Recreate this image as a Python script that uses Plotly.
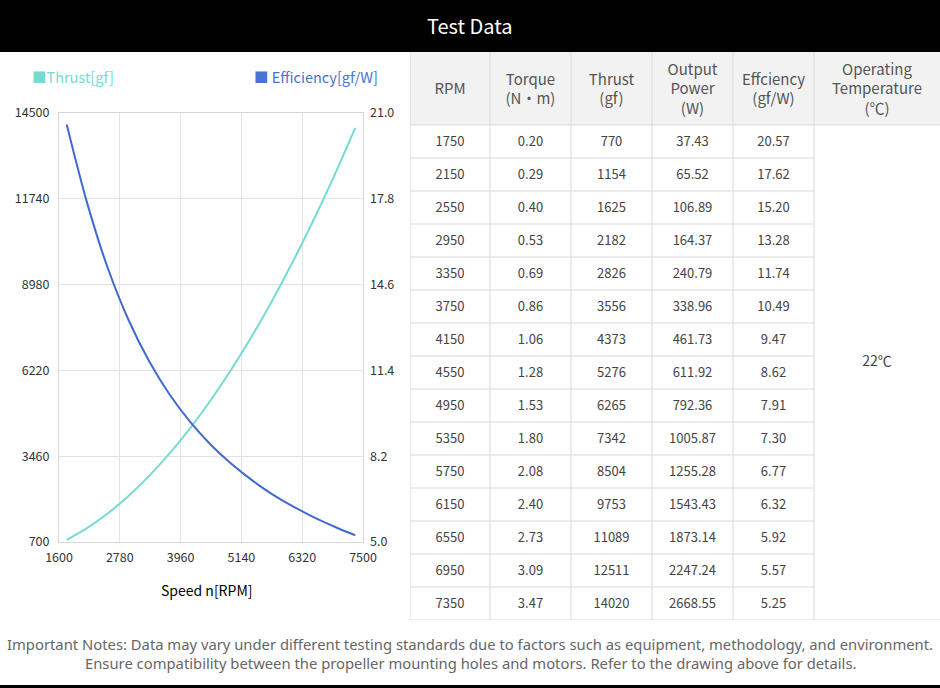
import plotly.graph_objects as go

# 表格数据
rpm = [1750, 2150, 2550, 2950, 3350, 3750, 4150, 4550, 4950, 5350, 5750, 6150, 6550, 6950, 7350]
torque = ["0.20", "0.29", "0.40", "0.53", "0.69", "0.86", "1.06", "1.28", "1.53", "1.80", "2.08", "2.40", "2.73", "3.09", "3.47"]
thrust = [770, 1154, 1625, 2182, 2826, 3556, 4373, 5276, 6265, 7342, 8504, 9753, 11089, 12511, 14020]
power = ["37.43", "65.52", "106.89", "164.37", "240.79", "338.96", "461.73", "611.92", "792.36", "1005.87",
         "1255.28", "1543.43", "1873.14", "2247.24", "2668.55"]
efficiency = [20.57, 17.62, 15.20, 13.28, 11.74, 10.49, 9.47, 8.62, 7.91, 7.30, 6.77, 6.32, 5.92, 5.57, 5.25]
temperature = "22℃"

headers = ["RPM", "Torque<br>(N·m)", "Thrust<br>(gf)", "Output<br>Power<br>(W)", "Effciency<br>(gf/W)",
           "Operating<br>Temperature<br>(℃)"]

x_ticks = [1600, 2780, 3960, 5140, 6320, 7500]
thrust_ticks = [700, 3460, 6220, 8980, 11740, 14500]
eff_ticks = [5.0, 8.2, 11.4, 14.6, 17.8, 21.0]

W, H = 940, 688
FONT = "Noto Sans CJK SC"
TEAL = "#74dcd2"
BLUE = "#4169cf"


def px(x):
    return x / W


def py(y):
    return 1 - y / H


fig = go.Figure()

# 曲线
fig.add_trace(go.Scatter(x=rpm, y=thrust, mode="lines", line=dict(color=TEAL, width=2, shape="spline"),
                         xaxis="x", yaxis="y", name="Thrust[gf]", hoverinfo="x+y"))
fig.add_trace(go.Scatter(x=rpm, y=efficiency, mode="lines", line=dict(color=BLUE, width=2, shape="spline"),
                         xaxis="x", yaxis="y2", name="Efficiency[gf/W]", hoverinfo="x+y"))

# 表格布局（像素）
col_w = [80, 81, 81, 81, 81, 126]
head_h = 73
row_h = 33
edges = [0]
for w in col_w:
    edges.append(edges[-1] + w)
centers = [(edges[i] + edges[i + 1]) / 2 for i in range(len(col_w))]
table_h = head_h + row_h * len(rpm)

columns = [[str(v) for v in rpm], torque, [str(v) for v in thrust], power, ["%.2f" % v for v in efficiency]]
tx, ty, tt = [], [], []
for ci, col in enumerate(columns):
    for ri, v in enumerate(col):
        tx.append(centers[ci])
        ty.append(head_h + row_h * ri + row_h / 2 + 1)
        tt.append(v)
fig.add_trace(go.Scatter(x=tx, y=ty, text=tt, mode="text", textfont=dict(family=FONT, size=13, color="#444"),
                         xaxis="x3", yaxis="y3", hoverinfo="skip", cliponaxis=False))
fig.add_trace(go.Scatter(x=centers, y=[head_h / 2 + 2] * len(headers), text=headers, mode="text",
                         textfont=dict(family=FONT, size=15, color="#555"),
                         xaxis="x3", yaxis="y3", hoverinfo="skip", cliponaxis=False))
fig.add_trace(go.Scatter(x=[centers[-1]], y=[310], text=[temperature], mode="text",
                         textfont=dict(family=FONT, size=14, color="#444"),
                         xaxis="x3", yaxis="y3", hoverinfo="skip", cliponaxis=False))

shapes = []
# 标题栏
shapes.append(dict(type="rect", xref="paper", yref="paper", x0=0, x1=1, y0=py(52), y1=1,
                   fillcolor="black", line=dict(width=0), layer="below"))
# 底边
shapes.append(dict(type="rect", xref="paper", yref="paper", x0=0, x1=1, y0=0, y1=py(685),
                   fillcolor="black", line=dict(width=0)))
# 表头背景
shapes.append(dict(type="rect", xref="x3", yref="y3", x0=0, x1=edges[-1], y0=0, y1=head_h,
                   fillcolor="#f2f2f2", line=dict(width=0), layer="below"))
gc = "#d9d9d9"
for e in edges[:-1]:
    shapes.append(dict(type="line", xref="x3", yref="y3", x0=e, x1=e, y0=0, y1=table_h, line=dict(color=gc, width=1)))
for i in range(len(rpm) + 1):
    yy = head_h + row_h * i
    x1 = edges[-1] if i in (0, len(rpm)) else edges[-2]
    shapes.append(dict(type="line", xref="x3", yref="y3", x0=0, x1=x1, y0=yy, y1=yy, line=dict(color=gc, width=1)))


def note(text, x, y, size, color, xanchor="center", family=FONT):
    return dict(text=text, x=x, y=y, xref="paper", yref="paper", showarrow=False,
                xanchor=xanchor, yanchor="middle", font=dict(family=family, size=size, color=color))


annotations = [
    note("Test Data", 0.5, py(26), 20, "white"),
    note("■Thrust[gf]", px(30), py(77), 14.5, TEAL, "left"),
    note("■ Efficiency[gf/W]", px(252), py(77), 14.5, "#4a72d4", "left"),
    note("Speed n[RPM]", px(206), py(590), 14, "black"),
    note("Important Notes: Data may vary under different testing standards due to factors such as equipment, "
         "methodology, and environment.", 0.5, py(644), 14.8, "#666", family="Noto Sans"),
    note("Ensure compatibility between the propeller mounting holes and motors. "
         "Refer to the drawing above for details.", 0.5, py(663), 14.8, "#666", family="Noto Sans"),
]

tickfont = dict(family=FONT, size=12.5, color="#333")
fig.update_layout(
    template="none",
    width=W, height=H, margin=dict(l=0, r=0, t=0, b=0, pad=0), autosize=False,
    paper_bgcolor="white", plot_bgcolor="white", showlegend=False,
    xaxis=dict(domain=[px(59), px(363)], range=[1600, 7500], tickvals=x_ticks, tickfont=tickfont,
               showgrid=True, gridcolor="#e3e3e3", showline=True, linecolor="#d6d6d6", mirror=True,
               zeroline=False, ticks="", ticklabelstandoff=4, anchor="y", automargin=False),
    yaxis=dict(domain=[py(542), py(113)], range=[700, 14500], tickvals=thrust_ticks,
               ticktext=[str(v) for v in thrust_ticks], tickfont=tickfont,
               showgrid=True, gridcolor="#e3e3e3", showline=True, linecolor="#d6d6d6", mirror=True,
               zeroline=False, ticks="", ticklabelstandoff=6, anchor="x", automargin=False),
    yaxis2=dict(range=[5, 21], tickvals=eff_ticks, ticktext=["%.1f" % v for v in eff_ticks], tickfont=tickfont,
                overlaying="y", side="right", anchor="x", showgrid=False, zeroline=False, ticks="",
                ticklabelstandoff=6, automargin=False),
    xaxis3=dict(domain=[px(410), 1], range=[0, edges[-1]], visible=False, anchor="y3", automargin=False),
    yaxis3=dict(domain=[py(620), py(52)], range=[table_h, 0], visible=False, anchor="x3", automargin=False),
    shapes=shapes, annotations=annotations,
)

fig.write_html("out.html", config={"displayModeBar": False}, post_script="document.body.style.margin='0';")
